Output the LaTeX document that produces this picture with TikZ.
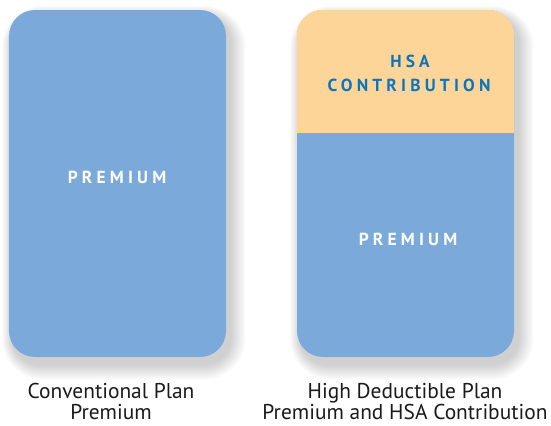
\documentclass[tikz,border=0pt]{standalone}
\usepackage{fontspec}
\setmainfont{PT Sans}
\newfontfamily\trackfont[LetterSpace=24]{PT Sans}
\definecolor{pblue}{HTML}{7BAADA}
\definecolor{hsaorange}{HTML}{FDD598}
\definecolor{hsatext}{HTML}{0B76BE}
\definecolor{labeltext}{HTML}{1A1A1A}
\tikzset{
  pbox/.style={draw=none, fill=pblue, rounded corners=26bp, minimum width=217bp, minimum height=347bp, inner sep=0pt},
  inlabel/.style={font=\trackfont\bfseries\fontsize{17.5}{20}\selectfont, inner sep=0pt, anchor=base},
  caption/.style={font=\fontsize{21.5}{24}\selectfont, text=labeltext, inner sep=0pt, anchor=base},
}
\begin{document}
\begin{tikzpicture}[x=1bp,y=-1bp]
\useasboundingbox (0,0) rectangle (551,425);
% soft shadows
\foreach \bx in {9,297}{
  \foreach \i in {1,...,16}{
    \fill[black, opacity=0.012, rounded corners=26+\i]
      (\bx+4-\i*0.7, 10+7-\i*0.7) rectangle (\bx+217+4+\i, 357+7+\i);
  }
}
% boxes
\node[pbox] (lbox) at (117.5,183.5) {};
\node[pbox] (rbox) at (405.5,183.5) {};
\coordinate (split) at (0,133.3);
\begin{scope}
  \clip[rounded corners=26bp] (rbox.south west) rectangle (rbox.north east);
  \fill[hsaorange] (rbox.north west) rectangle (rbox.east |- split);
\end{scope}
% box labels
\node[inlabel, text=white] (lprem) at (117,183.7) {PREMIUM};
\node[inlabel, text=white] (rprem) at (408,245) {PREMIUM};
\node[inlabel, text=hsatext] (hsa) at (410,67) {HSA};
\node[inlabel, text=hsatext] (contrib) at (409,91) {CONTRIBUTION};
% captions
\node[caption] (cap1a) at (111,398) {Conventional Plan};
\node[caption] (cap1b) at (111,419.5) {Premium};
\node[caption] (cap2a) at (405,398) {High Deductible Plan};
\node[caption] (cap2b) at (405,419.5) {Premium and HSA Contribution};
\end{tikzpicture}
\end{document}
